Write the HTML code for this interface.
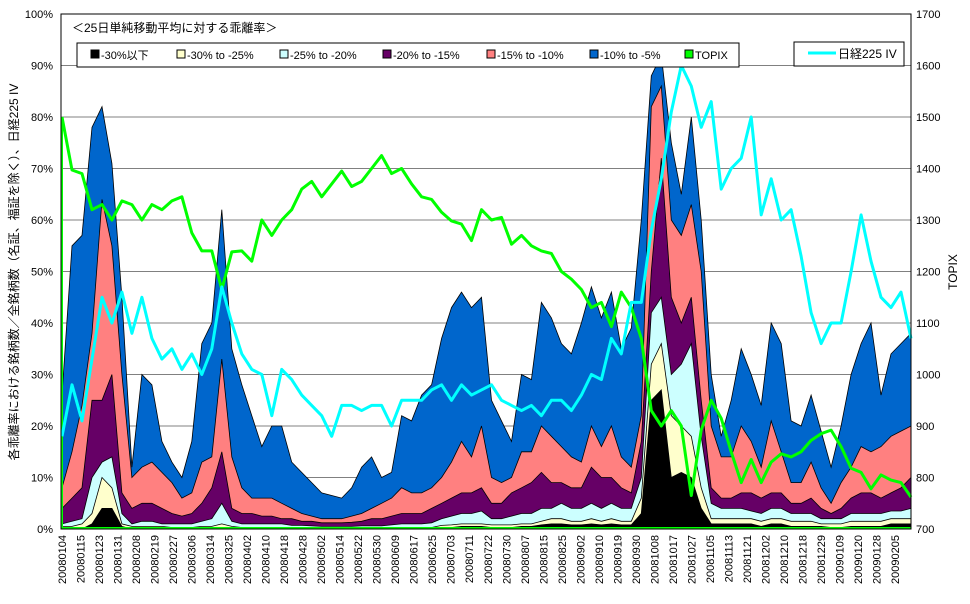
<!DOCTYPE html>
<html><head><meta charset="utf-8"><style>
body{margin:0;background:#fff;}
svg{display:block;font-family:"Liberation Sans","Noto Sans CJK JP",sans-serif;}
</style></head><body>
<svg id="chart" width="970" height="604" viewBox="0 0 970 604" xmlns="http://www.w3.org/2000/svg">
<rect x="0" y="0" width="970" height="604" fill="#fff"/>
<g id="grid"></g>
<g id="areas"></g>
<g id="lines"></g>
<rect x="61" y="14" width="850" height="515" fill="none" stroke="#000" stroke-width="1"/>
<g id="axes"></g>
<text x="72" y="32" font-size="12">＜25日単純移動平均に対する乖離率＞</text>
<g>
<rect x="77" y="43" width="662" height="24" fill="#fff" stroke="#000"/>
<g><rect x="91" y="50" width="8" height="8" fill="#000" stroke="#000"/><text x="101" y="59" font-size="11">-30%以下</text></g>
<g><rect x="177" y="50" width="8" height="8" fill="#FFFFCC" stroke="#000"/><text x="187" y="59" font-size="11">-30% to -25%</text></g>
<g><rect x="280" y="50" width="8" height="8" fill="#CCFFFF" stroke="#000"/><text x="290" y="59" font-size="11">-25% to -20%</text></g>
<g><rect x="383" y="50" width="8" height="8" fill="#660066" stroke="#000"/><text x="393" y="59" font-size="11">-20% to -15%</text></g>
<g><rect x="487" y="50" width="8" height="8" fill="#FF8080" stroke="#000"/><text x="497" y="59" font-size="11">-15% to -10%</text></g>
<g><rect x="590" y="50" width="8" height="8" fill="#0066CC" stroke="#000"/><text x="600" y="59" font-size="11">-10% to -5%</text></g>
<g><rect x="685" y="50" width="8" height="8" fill="#00FF00" stroke="#000"/><text x="695" y="59" font-size="11">TOPIX</text></g>
</g>
<g>
<rect x="794" y="42" width="110" height="24" fill="#fff" stroke="#000"/>
<line x1="808" y1="53" x2="836" y2="53" stroke="#00FFFF" stroke-width="3"/>
<text x="838" y="58" font-size="12">日経225 IV</text>
</g>
<text transform="translate(18,272) rotate(-90)" text-anchor="middle" font-size="12">各乖離率における銘柄数／全銘柄数（名証、福証を除く）、日経225 IV</text>
<text transform="translate(957,272) rotate(-90)" text-anchor="middle" font-size="12">TOPIX</text>
</svg>
<script>
const dates=["20080104","20080115","20080123","20080131","20080208","20080219","20080227","20080306","20080314","20080325","20080402","20080410","20080418","20080428","20080502","20080514","20080522","20080530","20080609","20080617","20080625","20080703","20080711","20080722","20080730","20080807","20080815","20080825","20080902","20080910","20080919","20080930","20081008","20081017","20081027","20081105","20081113","20081121","20081202","20081210","20081218","20081229","20090109","20090120","20090128","20090205"];
const leftTicks=["0%","10%","20%","30%","40%","50%","60%","70%","80%","90%","100%"];
const rightTicks=["700","800","900","1000","1100","1200","1300","1400","1500","1600","1700"];
const below30=[0,0,0,1,4,4,0.5,0,0,0,0,0,0,0,0,0,0,0,0,0,0,0,0,0,0,0,0,0,0,0,0,0,0,0,0,0,0,0,0.3,0.3,0.5,0.5,0.5,0.3,0.3,0.3,0.5,0.5,0.8,1,1,0.8,0.8,1,0.8,1,0.8,0.8,3,25,27,10,11,10,4,1,1,1,1,1,0.5,1,1,0.5,0.5,0.5,0.5,0.3,0.3,0.5,0.5,0.5,0.5,1,1,1];
const r30to25=[0.5,0.5,1,2,6,4,0.5,0.5,0.5,0.5,0.5,0.3,0.3,0.3,0.5,0.5,1,0.5,0.3,0.3,0.3,0.3,0.3,0.2,0.2,0.2,0.2,0.2,0.2,0.2,0.2,0.2,0.2,0.3,0.3,0.3,0.3,0.3,0.4,0.5,0.5,0.5,0.5,0.5,0.5,0.5,0.5,0.5,0.7,1,1,0.7,0.7,1,0.7,1,0.7,0.7,3,7,9,12,9,8,4,1,1,1,1,1,1,1,1,1,1,1,0.5,0.7,0.7,1,1,1,1,1,1,1];
const r25to20=[0.5,1,1,7,3,6,2,0.5,1,1,0.5,0.7,0.7,0.7,1,1.5,4,1,0.7,0.7,0.7,0.7,0.7,0.5,0.5,0.4,0.3,0.3,0.3,0.3,0.4,0.4,0.4,0.5,0.7,0.7,0.7,0.9,1.3,1.7,2,2,2.5,1.2,1.2,1.7,2,2,2.5,2,3,2.5,2.5,3,2.5,3,2.5,2.5,4,10,9,8,12,18,10,3,2,2,2,1.5,1.5,2,2,1.5,1.5,1.5,1,1,1,1.5,1.5,1.5,1.5,1.5,1.5,2];
const r20to15=[3,4.5,6,15,12,16,4,3,3.5,3.5,3,2,1.5,2,3.5,6,10,2.5,2,2,1.5,1.5,1,1.3,0.8,0.9,0.7,0.7,0.7,0.8,0.9,1.4,1.4,1.7,2,2,2,2.8,3,3.5,4,4,4.5,3,3,4.5,5,6,7,5,4,4,4,7,6,5,4,3,7,8,27,15,8,9,7,3,2,2,3,3.5,3,3,3,2,2,3,2,1,2,3,4,4,3,3.5,4.5,6];
const r15to10=[4,9,16,13,39,25,23,6,7,8,7,6,3.5,4,8,6,18,10,5,3,3.5,3.5,3,2,1.5,1,0.8,0.8,0.8,1.2,1.5,2,3,3.5,5,4,4,4,5,7,10,7,12,5,4,3,7,6,9,9,7,6,5,8,6,10,6,5,5,32,14,15,17,18,25,12,8,8,13,10,6,14,8,4,4,7,4,2,5,6,9,8,10,11,11,10];
const r10to5=[18,40,33,40,18,16,15,2,18,15,6,4,4,10,23,26,29,21,20,16,10,14,15,9,8,6.5,5,4.5,4,5.5,9,10,5,5,14,14,19,20,27,30,29,29,25,15,12,7,15,14,24,23,20,20,27,27,25,26,21,27,38,6,6,15,8,17,10,10,4,11,15,13,12,19,21,12,11,13,11,7,11,18,20,25,10,16,17,18];
const topix=[1500,1397,1390,1320,1330,1300,1337,1330,1300,1330,1320,1337,1345,1275,1240,1240,1165,1238,1240,1220,1300,1270,1300,1320,1360,1375,1345,1370,1395,1365,1375,1400,1425,1390,1400,1370,1345,1340,1315,1298,1292,1260,1320,1300,1305,1253,1270,1250,1240,1235,1200,1185,1165,1130,1140,1093,1160,1130,1070,930,900,930,900,765,892,950,915,850,790,835,790,830,846,840,850,872,885,892,860,818,810,778,805,795,790,762];
const iv=[18,28,21,33,45,40,46,38,45,37,33,35,31,34,30,35,47,40,34,31,30,22,31,29,26,24,22,18,24,24,23,24,24,20,25,25,25,27,28,25,28,26,27,28,25,24,23,24,22,25,25,23,26,30,29,37,34,44,44,58,68,81,90,86,78,83,66,70,72,80,61,68,60,62,53,42,36,40,40,50,61,52,45,43,46,37];

const NS="http://www.w3.org/2000/svg";
const X0=62,X1=911,YB=529,YT=14;
const n=below30.length;
function xPos(i){return X0+(X1-X0)*i/(n-1);}
function yPct(v){return YB-(YB-YT)*v/100;}
function yTopix(v){return YB-(YB-YT)*(v-700)/1000;}
function el(tag,attrs,parent){const e=document.createElementNS(NS,tag);for(const k in attrs)e.setAttribute(k,attrs[k]);parent.appendChild(e);return e;}

const grid=document.getElementById('grid');
for(let k=1;k<leftTicks.length-1;k++){
  const g=el('line',{x1:61,x2:911,y1:yPct(k*10),y2:yPct(k*10),stroke:'#808080','stroke-width':1},grid);
  
  
}

const series=[below30,r30to25,r25to20,r20to15,r15to10,r10to5];
const colors=["#000000","#FFFFCC","#CCFFFF","#660066","#FF8080","#0066CC"];
const names=["area-below-30","area-30-to-25","area-25-to-20","area-20-to-15","area-15-to-10","area-10-to-5"];
const areas=document.getElementById('areas');
let base=new Array(n).fill(0);
const layers=[];
series.forEach((s)=>{const top=base.map((b,i)=>b+s[i]);layers.push({lo:base,hi:top});base=top;});
for(let k=layers.length-1;k>=0;k--){
  const L=layers[k];
  let d='M'+xPos(0)+','+YB;
  for(let i=0;i<n;i++)d+=' L'+xPos(i).toFixed(1)+','+yPct(L.hi[i]).toFixed(1);
  d+=' L'+xPos(n-1)+','+YB+' Z';
  const p=el('path',{d:d,fill:colors[k],stroke:'#000','stroke-width':0.8},areas);
  
  
}

const lines=document.getElementById('lines');
const gl=el('line',{x1:62,y1:YB,x2:62,y2:yTopix(topix[0]),stroke:'#00FF00','stroke-width':2},lines);


const gb=el('line',{x1:61,y1:YB-1,x2:911,y2:YB-1,stroke:'#00FF00','stroke-width':2},lines);


let dT='',dI='';
for(let i=0;i<n;i++){dT+=(i?' L':'M')+xPos(i).toFixed(1)+','+yTopix(topix[i]).toFixed(1);dI+=(i?' L':'M')+xPos(i).toFixed(1)+','+yPct(iv[i]).toFixed(1);}
const pT=el('path',{d:dT,fill:'none',stroke:'#00FF00','stroke-width':3,'stroke-linejoin':'round'},lines);


const pI=el('path',{d:dI,fill:'none',stroke:'#00FFFF','stroke-width':3,'stroke-linejoin':'round'},lines);



const axes=document.getElementById('axes');
leftTicks.forEach((t,k)=>{
  const tx=el('text',{x:53,y:yPct(k*10)+4,'text-anchor':'end','font-size':11},axes);
  tx.textContent=t;
  
  
});
rightTicks.forEach((t,k)=>{
  const tx=el('text',{x:916,y:yPct(k*10)+4,'font-size':11},axes);
  tx.textContent=t;
  
  
});
const step=(895-62)/(dates.length-1);
dates.forEach((d,k)=>{
  const x=62+k*step;
  const tx=el('text',{transform:'translate('+(x+4)+',535) rotate(-90)','text-anchor':'end','font-size':11},axes);
  tx.textContent=d;
  
  
});
</script>
</body></html>
